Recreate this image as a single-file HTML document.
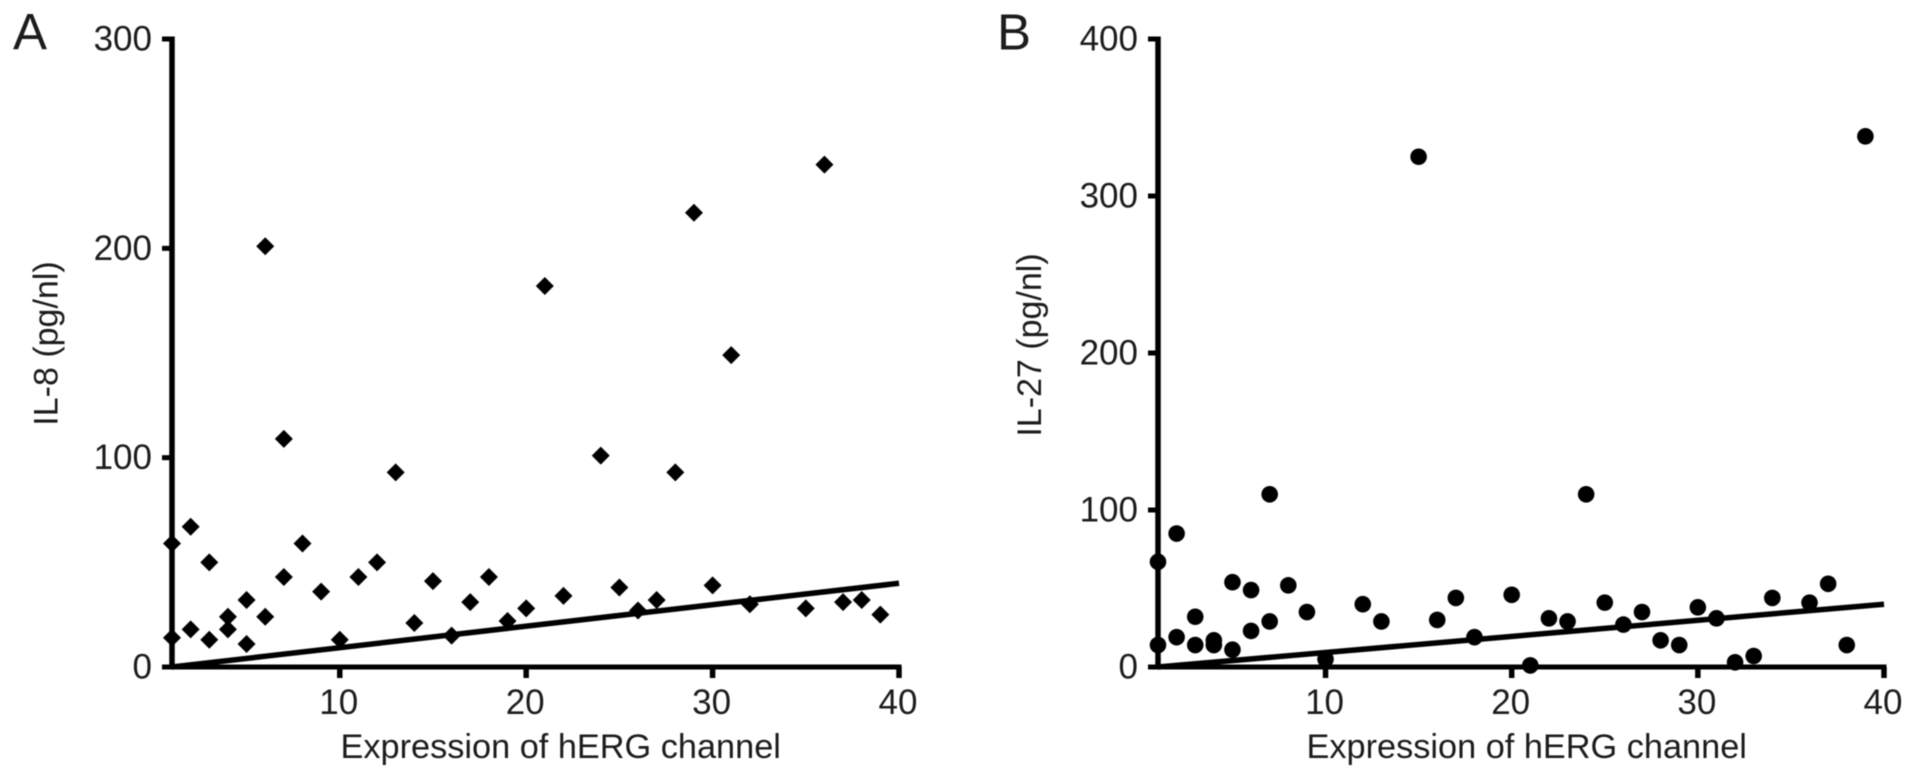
<!DOCTYPE html>
<html lang="en">
<head>
<meta charset="utf-8">
<title>IL-8 and IL-27 versus hERG channel expression</title>
<style>
html,body{margin:0;padding:0;background:#fff;width:1913px;height:779px;overflow:hidden}
svg{display:block;filter:blur(.65px)}
text{font-family:"Liberation Sans",sans-serif;fill:#1c1c1c}
</style>
</head>
<body>
<svg id="chart" width="1913" height="779" viewBox="0 0 1913 779" xmlns="http://www.w3.org/2000/svg">
<rect width="1913" height="779" fill="#fff"/>
</svg>
<script>
const xTickValues = [10, 20, 30, 40];
const yTicksA = [0, 100, 200, 300];
const yTicksB = [0, 100, 200, 300, 400];

const il8X = [1,1,2,2,3,3,4,4,5,5,6,6,7,7,8,9,10,11,12,13,14,15,16,17,18,19,20,21,22,24,25,26,27,28,29,30,31,32,35,36,37,38,39];
const il8Y = [59,14,67,18,50,13,24,18,32,11,201,24,109,43,59,36,13,43,50,93,21,41,15,31,43,22,28,182,34,101,38,27,32,93,217,39,149,30,28,240,31,32,25];

const il27X = [1,1,2,2,3,3,4,4,5,5,6,6,7,7,8,9,10,12,13,15,16,17,18,20,21,22,23,24,25,26,27,28,29,30,31,32,33,34,36,37,38,39];
const il27Y = [67,14,85,19,32,14,14,17,54,11,49,23,110,29,52,35,5,40,29,325,30,44,19,46,1,31,29,110,41,27,35,17,14,38,31,3,7,44,41,53,14,338];

const trendX = [1, 40];
const trendY = [0, 40];

const NS = 'http://www.w3.org/2000/svg';
const svg = document.getElementById('chart');

function make(tag, attrs, text) {
  const el = document.createElementNS(NS, tag);
  for (const k in attrs) el.setAttribute(k, attrs[k]);
  if (text !== undefined) el.textContent = text;
  return el;
}

function drawPanel(cfg) {
  const sx = v => cfg.left + (v - 1) / 39 * (cfg.right - cfg.left);
  const sy = v => cfg.bottom - v / cfg.yMax * (cfg.bottom - cfg.top);

  const g = make('g', {});
  
  
  svg.appendChild(g);

  const letter = make('text', {x: cfg.letterX, y: 49.5, 'font-size': 51}, cfg.letter);
  
  
  g.appendChild(letter);

  const yAxis = make('line', {x1: cfg.left, x2: cfg.left, y1: sy(cfg.yMax) - 2.5, y2: cfg.bottom + 2.5, stroke: '#000', 'stroke-width': 5.5});
  
  
  g.appendChild(yAxis);

  const xAxis = make('line', {x1: cfg.left - 2, x2: cfg.right + 2.5, y1: cfg.bottom, y2: cfg.bottom, stroke: '#000', 'stroke-width': 5});
  
  
  g.appendChild(xAxis);

  cfg.yTicks.forEach(v => {
    const tick = make('line', {x1: cfg.left - 10, x2: cfg.left, y1: sy(v), y2: sy(v), stroke: '#000', 'stroke-width': 5});
    
    
    g.appendChild(tick);
    const label = make('text', {x: cfg.left - 20, y: sy(v) + 11.5, 'font-size': 35, 'text-anchor': 'end'}, String(v));
    
    
    g.appendChild(label);
  });

  xTickValues.forEach(v => {
    const tick = make('line', {x1: sx(v), x2: sx(v), y1: cfg.bottom, y2: cfg.bottom + 11, stroke: '#000', 'stroke-width': 5.5});
    
    
    g.appendChild(tick);
    const label = make('text', {x: sx(v) - 1, y: cfg.bottom + 47, 'font-size': 35, 'text-anchor': 'middle'}, String(v));
    
    
    g.appendChild(label);
  });

  const xTitle = make('text', {x: cfg.xTitleX, y: 758, 'font-size': 34.3}, 'Expression of hERG channel');
  
  
  g.appendChild(xTitle);

  const yTitle = make('text', {x: 0, y: 0, 'font-size': 34, 'text-anchor': 'middle', transform: 'translate(' + cfg.yTitleX + ',' + cfg.yTitleY + ') rotate(-90)'}, cfg.yTitle);
  
  
  g.appendChild(yTitle);

  cfg.xs.forEach((xv, i) => {
    const px = sx(xv), py = sy(cfg.ys[i]);
    let mark;
    if (cfg.shape === 'diamond') {
      const r = 9;
      mark = make('polygon', {points: [[px, py - r], [px + r, py], [px, py + r], [px - r, py]].map(p => p.join(',')).join(' '), fill: '#000'});
    } else {
      mark = make('circle', {cx: px, cy: py, r: 8.3, fill: '#000'});
    }
    
    
    g.appendChild(mark);
  });

  const trend = make('line', {x1: sx(trendX[0]), y1: sy(trendY[0]), x2: sx(trendX[1]), y2: sy(trendY[1]), stroke: '#000', 'stroke-width': 5.5});
  
  
  g.appendChild(trend);
}

drawPanel({id: 'il8', letter: 'A', letterX: 13, left: 172, right: 899, top: 39, bottom: 667, yMax: 300, yTicks: yTicksA, xs: il8X, ys: il8Y, shape: 'diamond', yTitle: 'IL-8 (pg/nl)', yTitleX: 57.5, yTitleY: 343.5, xTitleX: 340.5});
drawPanel({id: 'il27', letter: 'B', letterX: 997, left: 1158, right: 1884, top: 39, bottom: 667, yMax: 400, yTicks: yTicksB, xs: il27X, ys: il27Y, shape: 'circle', yTitle: 'IL-27 (pg/nl)', yTitleX: 1041, yTitleY: 345, xTitleX: 1306.5});
</script>
</body>
</html>
